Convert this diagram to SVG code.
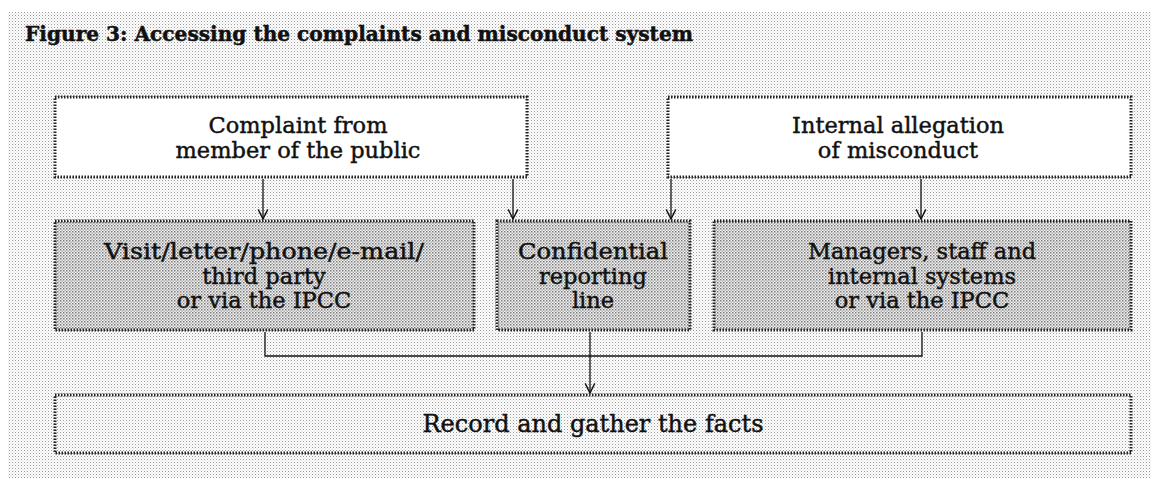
<svg xmlns="http://www.w3.org/2000/svg" width="1159" height="485" viewBox="0 0 1159 485">
  <defs>
    <!-- light halftone screen for the panel -->
    <pattern id="screenLight" width="3" height="3" patternUnits="userSpaceOnUse">
      <rect width="3" height="3" fill="#ffffff"/>
      <rect x="0" y="0" width="1" height="1" fill="#9a9a9a"/>
      <rect x="1.5" y="1.5" width="1" height="1" fill="#c8c8c8"/>
    </pattern>
    <!-- denser screen for the channel boxes -->
    <pattern id="screenDark" width="3" height="3" patternUnits="userSpaceOnUse">
      <rect width="3" height="3" fill="#f2f2f2"/>
      <rect x="0" y="0" width="1.5" height="1.5" fill="#7a7a7a"/>
      <rect x="1.5" y="1.5" width="1.5" height="1.5" fill="#b0b0b0"/>
    </pattern>
    <marker id="arrow" markerWidth="12" markerHeight="12" refX="9" refY="5" orient="auto" markerUnits="userSpaceOnUse" viewBox="0 0 10 10">
      <path d="M1,1 L9,5 L1,9" fill="none" stroke="#111" stroke-width="1.2"/>
    </marker>
    <style>
      .box { stroke: #222; stroke-width: 3; stroke-dasharray: 1.5 1.5; }
      .white { fill: #ffffff; }
      .plain { fill: url(#screenLight); }
      .shaded { fill: url(#screenDark); }
      .label { font-family: "DejaVu Serif", "Liberation Serif", serif; font-size: 22.5px; fill: #111; stroke: #111; stroke-width: 0.45; text-anchor: middle; }
      .big { font-size: 24px; }
      .title { font-family: "DejaVu Serif", "Liberation Serif", serif; font-size: 21px; font-weight: bold; fill: #111; stroke: #111; stroke-width: 0.5; }
      .conn { fill: none; stroke: #111; stroke-width: 1.3; }
    </style>
  </defs>

  <rect width="1159" height="485" fill="#ffffff"/>
  <rect x="8" y="12" width="1143" height="466" fill="url(#screenLight)"/>

  <text class="title" x="25" y="41" textLength="668" lengthAdjust="spacingAndGlyphs">Figure 3: Accessing the complaints and misconduct system</text>

  <g id="public-complaint">
    <rect class="box white" x="55" y="97" width="472" height="80"/>
    <text class="label" x="298" y="133">Complaint from</text>
    <text class="label" x="298" y="158">member of the public</text>
  </g>

  <g id="internal-allegation">
    <rect class="box white" x="668" y="97" width="463" height="80"/>
    <text class="label" x="898" y="133">Internal allegation</text>
    <text class="label" x="898" y="158">of misconduct</text>
  </g>

  <g id="public-channels">
    <rect class="box shaded" x="55" y="221" width="419" height="109"/>
    <text class="label" x="264" y="259" textLength="320" lengthAdjust="spacingAndGlyphs">Visit/letter/phone/e-mail/</text>
    <text class="label" x="264" y="284">third party</text>
    <text class="label" x="264" y="308">or via the IPCC</text>
  </g>

  <g id="confidential-line">
    <rect class="box shaded" x="497" y="221" width="193" height="109"/>
    <text class="label" x="593" y="259" textLength="150" lengthAdjust="spacingAndGlyphs">Confidential</text>
    <text class="label" x="593" y="284">reporting</text>
    <text class="label" x="593" y="308">line</text>
  </g>

  <g id="internal-channels">
    <rect class="box shaded" x="714" y="221" width="417" height="109"/>
    <text class="label" x="922" y="259">Managers, staff and</text>
    <text class="label" x="922" y="284">internal systems</text>
    <text class="label" x="922" y="308">or via the IPCC</text>
  </g>

  <g id="record-facts">
    <rect class="box plain" x="55" y="395" width="1076" height="58"/>
    <text class="label big" x="593" y="432">Record and gather the facts</text>
  </g>

  <g id="connectors">
    <line class="conn" x1="263" y1="179" x2="263" y2="219" marker-end="url(#arrow)"/>
    <line class="conn" x1="513" y1="179" x2="513" y2="219" marker-end="url(#arrow)"/>
    <line class="conn" x1="671" y1="179" x2="671" y2="219" marker-end="url(#arrow)"/>
    <line class="conn" x1="921" y1="179" x2="921" y2="219" marker-end="url(#arrow)"/>
    <path class="conn" d="M265,332 V356 H922 V332"/>
    <line class="conn" x1="590" y1="332" x2="590" y2="393" marker-end="url(#arrow)"/>
  </g>
</svg>
